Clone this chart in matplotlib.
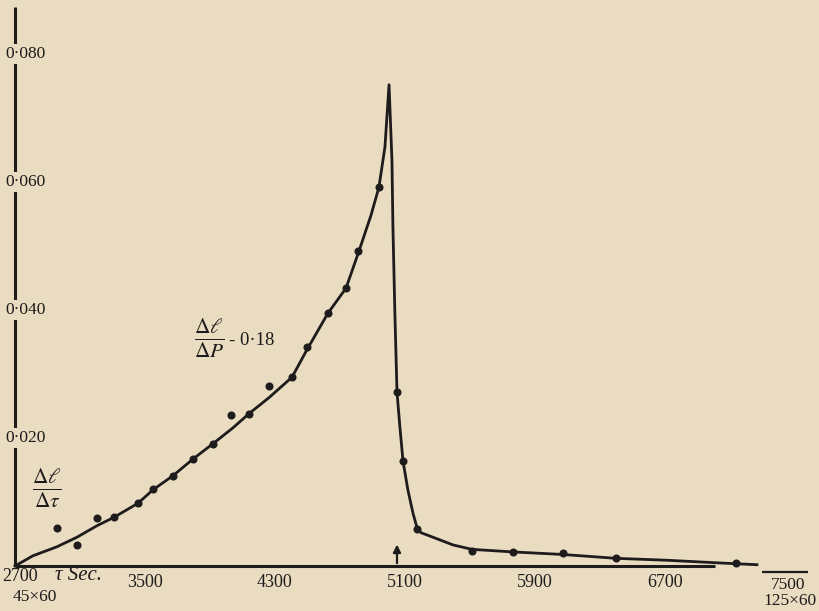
import matplotlib
matplotlib.use('Agg')
import matplotlib.pyplot as plt

# Observed points (time in seconds, dl/dtau)
obs_t = [2958, 3082, 3205, 3309, 3457, 3549, 3672, 3795, 3918, 4029, 4140,
         4263, 4405, 4497, 4626, 4737, 4811, 4940,
         5051, 5088, 5174, 5512, 5765, 6072, 6398, 7137]
obs_v = [0.0059, 0.0033, 0.0075, 0.0077, 0.0098, 0.0120, 0.0141, 0.0167,
         0.0191, 0.0236, 0.0238, 0.0281, 0.0295, 0.0342, 0.0395, 0.0434,
         0.0492, 0.0592,
         0.0272, 0.0164, 0.0058, 0.0024, 0.0022, 0.0020, 0.0012, 0.0005]

# Drawn curve
curve_t = [2700, 2811, 2958, 3082, 3205, 3309, 3457, 3549, 3672, 3795, 3918,
           4042, 4140, 4263, 4405, 4497, 4626, 4737, 4817, 4891, 4940, 4977,
           5002, 5020, 5026, 5038, 5051, 5069, 5088, 5118, 5149, 5174, 5199,
           5272, 5395, 5512, 5765, 6072, 6398, 6712, 7020, 7266]
curve_v = [0.0000, 0.0016, 0.0030, 0.0045, 0.0063, 0.0076, 0.0098, 0.0119,
           0.0141, 0.0167, 0.0191, 0.0216, 0.0238, 0.0263, 0.0295, 0.0338,
           0.0395, 0.0434, 0.0492, 0.0548, 0.0592, 0.0655,
           0.0752, 0.0634, 0.0530, 0.0395, 0.0272, 0.0217, 0.0164, 0.0119,
           0.0083, 0.0060, 0.0052, 0.0045, 0.0033, 0.0026, 0.0022, 0.0018,
           0.0012, 0.0009, 0.0005, 0.0002]

y_ticks = [0.020, 0.040, 0.060, 0.080]
y_labels = ['0·020', '0·040', '0·060', '0·080']
x_ticks = [3500, 4300, 5100, 5900, 6700]
x_labels = ['3500', '4300', '5100', '5900', '6700']

bg = '#e9dcc0'
ink = '#1e1b1c'
plt.rcParams['font.family'] = ['Liberation Serif', 'DejaVu Serif']
plt.rcParams['mathtext.fontset'] = 'stix'

fig = plt.figure(figsize=(8.19, 6.11), dpi=100, facecolor=bg)
ax = fig.add_axes([0, 0, 1, 1])
ax.set_facecolor(bg)
ax.set_xlim(2608, 7648)
ax.set_ylim(-0.00703, 0.08844)
ax.axis('off')

# axes drawn by hand
ax.plot([2700, 2700], [0, 0.0873], color=ink, lw=2.2, solid_capstyle='butt')
ax.plot([2700, 7008], [0, 0], color=ink, lw=2.2, solid_capstyle='butt')

ax.plot(curve_t, curve_v, color=ink, lw=2.0, zorder=3, solid_joinstyle='round')
ax.plot(obs_t, obs_v, 'o', color=ink, ms=4.8, zorder=4)

# y labels sit on the axis line and break it
for v, lab in zip(y_ticks, y_labels):
    ax.text(2640, v, lab, ha='left', va='center', fontsize=12.5, color=ink,
            bbox=dict(facecolor=bg, edgecolor='none', pad=1.5), zorder=5)

for t, lab in zip(x_ticks, x_labels):
    ax.text(t, -0.0025, lab, ha='center', va='center', fontsize=13, color=ink)

ax.text(2608 + 2 * 6.154, -0.0016, '2700', ha='left', va='center', fontsize=13, color=ink)
ax.text(2608 + 13 * 6.154, -0.0048, '45×60', ha='left', va='center', fontsize=12.5, color=ink)
ax.text(2945, -0.0015, 'τ Sec.', ha='left', va='center', fontsize=15, style='italic', color=ink)

# 7500 as a fraction over 125x60
ax.plot([7300, 7580], [-0.0010, -0.0010], color=ink, lw=1.6, solid_capstyle='butt')
ax.text(7460, -0.0030, '7500', ha='center', va='center', fontsize=12.5, color=ink)
ax.text(7470, -0.0055, '125×60', ha='center', va='center', fontsize=12.5, color=ink)

# arrow under the drop
ax.annotate('', xy=(5051, 0.0038), xytext=(5051, 0.0),
            arrowprops=dict(arrowstyle='-|>', color=ink, lw=1.6, mutation_scale=11))

ax.text(2897, 0.0121, r'$\frac{\Delta\ell}{\Delta\tau}$', ha='center', va='center',
        fontsize=22, color=ink)
ax.text(3800, 0.0356, r'$\frac{\Delta\ell}{\Delta P}$', ha='left', va='center',
        fontsize=22, color=ink)
ax.text(4020, 0.0352, '- 0·18', ha='left', va='center', fontsize=13.5, color=ink)

fig.savefig('out.png', dpi=100, facecolor=bg)
